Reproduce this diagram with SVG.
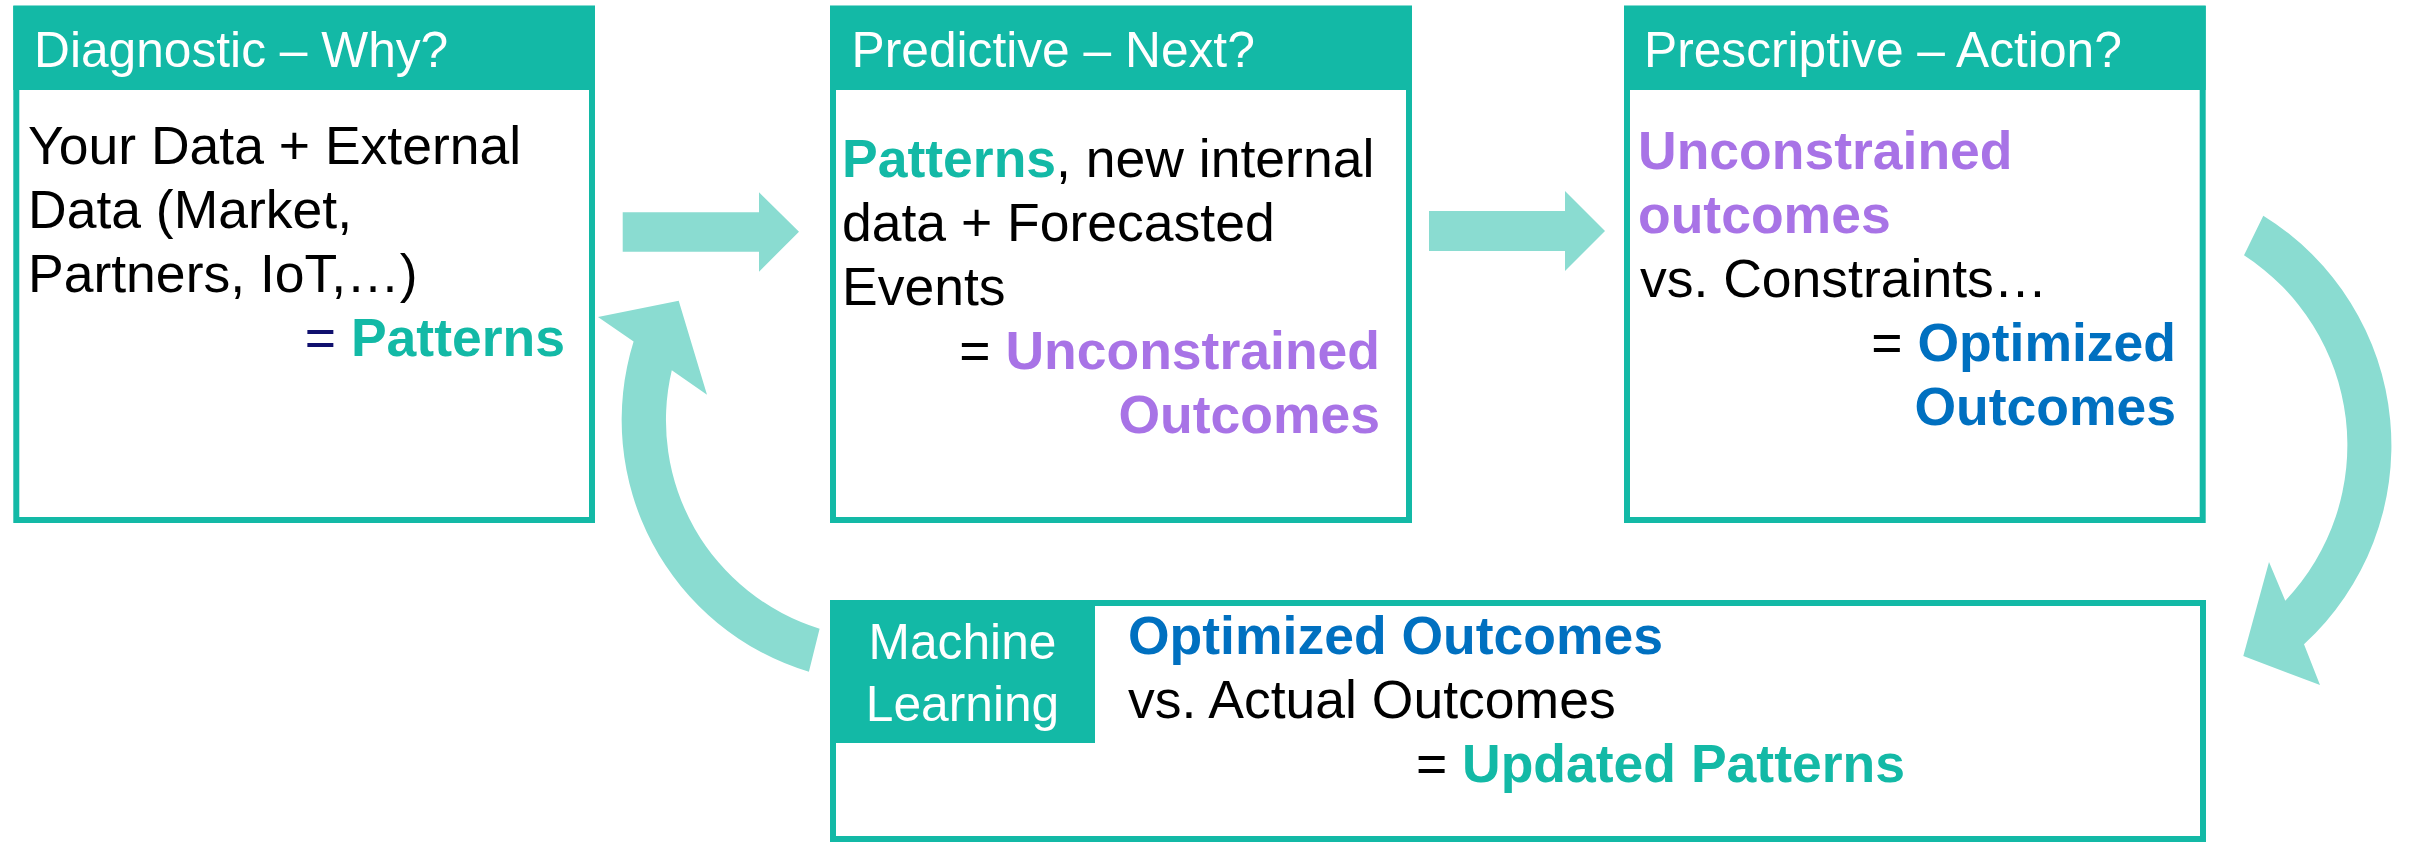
<svg xmlns="http://www.w3.org/2000/svg" width="2413" height="842" viewBox="0 0 2413 842">
<style>
.box{fill:#fff;stroke:#13B9A6;stroke-width:6}
.hdr{fill:#13B9A6}
.title{font-family:"Liberation Sans",Arial,sans-serif;font-size:49.7px;fill:#fff}
.body{font-family:"Liberation Sans",Arial,sans-serif;font-size:53.5px;fill:#000}
.b{font-weight:bold}
.teal{fill:#13B9A6}
.purple{fill:#A873E6}
.blue{fill:#0070C0}
.navy{fill:#10106E}
.arrow{fill:#8ADCD1}
</style>
<g id="connectors">
<path class="arrow" d="M622.7,212.3 H759 V192.3 L799,231.7 L759,271.7 V251.7 H622.7 Z"/>
<path class="arrow" d="M1429,211 H1565 V191 L1605,231 L1565,271 V251 H1429 Z"/>
<path class="arrow" d="M2263.3,215.7 A270 270 0 0 1 2304,644.3 L2320,685 L2243.3,656 L2269,562 L2285.3,600.7 A226 226 0 0 0 2244,255.3 Z"/>
<path class="arrow" d="M808.9,671.8 A263 263 0 0 1 633.6,341.6 L598,316.9 L678.7,300.8 L707,394.7 L671.8,370.3 A218 218 0 0 0 819.6,628.7 Z"/>
</g>
<g id="diagnostic">
<rect class="box" x="16.3" y="8.7" width="575.7" height="511.3"/>
<rect class="hdr" x="13.3" y="5.7" width="581.7" height="84.3"/>
<text class="title" x="34" y="67">Diagnostic – Why?</text>
<text class="body" x="28" y="164">Your Data + External</text>
<text class="body" x="28" y="228">Data (Market,</text>
<text class="body" x="28" y="292">Partners, IoT,…)</text>
<text class="body" x="565" y="356" text-anchor="end"><tspan class="navy">= </tspan><tspan class="b teal">Patterns</tspan></text>
</g>
<g id="predictive">
<rect class="box" x="833" y="8.7" width="576" height="511.3"/>
<rect class="hdr" x="830" y="5.7" width="582" height="84.3"/>
<text class="title" x="851.6" y="67">Predictive – Next?</text>
<text class="body" x="842" y="177"><tspan class="b teal">Patterns</tspan>, new internal</text>
<text class="body" x="842" y="241">data + Forecasted</text>
<text class="body" x="842" y="305">Events</text>
<text class="body" x="1380" y="369" text-anchor="end">= <tspan class="b purple">Unconstrained</tspan></text>
<text class="body b purple" x="1380" y="433" text-anchor="end">Outcomes</text>
</g>
<g id="prescriptive">
<rect class="box" x="1627" y="8.7" width="575.7" height="511.3"/>
<rect class="hdr" x="1624" y="5.7" width="581.7" height="84.3"/>
<text class="title" x="1644" y="67">Prescriptive – Action?</text>
<text class="body b purple" x="1638" y="169">Unconstrained</text>
<text class="body b purple" x="1638" y="233">outcomes</text>
<text class="body" x="1640" y="297">vs. Constraints…</text>
<text class="body" x="2176" y="361" text-anchor="end">= <tspan class="b blue">Optimized</tspan></text>
<text class="body b blue" x="2176" y="425" text-anchor="end">Outcomes</text>
</g>
<g id="machine-learning">
<rect class="box" x="833" y="603" width="1370" height="236"/>
<rect class="hdr" x="830" y="600" width="265" height="143"/>
<text class="title" x="962.5" y="659" text-anchor="middle">Machine</text>
<text class="title" x="962.5" y="721" text-anchor="middle">Learning</text>
<text class="body b blue" x="1128" y="654">Optimized Outcomes</text>
<text class="body" x="1128" y="718">vs. Actual Outcomes</text>
<text class="body" x="1905" y="782" text-anchor="end">= <tspan class="b teal">Updated Patterns</tspan></text>
</g>
</svg>
